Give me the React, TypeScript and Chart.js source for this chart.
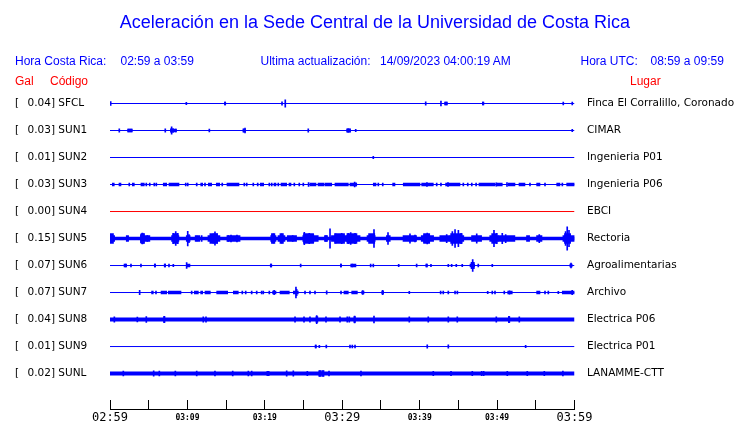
import React, { useEffect, useRef } from "react";
import { Chart, registerables } from "chart.js";

Chart.register(...registerables);

// ---------- data ----------
const CODES = ["SFCL", "SUN1", "SUN2", "SUN3", "SUN4", "SUN5", "SUN6", "SUN7", "SUN8", "SUN9", "SUNL"];
const GAL = ["0.04", "0.03", "0.01", "0.03", "0.00", "0.15", "0.07", "0.07", "0.04", "0.01", "0.02"];
const PLACES = [
  "Finca El Corralillo, Coronado",
  "CIMAR",
  "Ingenieria P01",
  "Ingenieria P06",
  "EBCI",
  "Rectoria",
  "Agroalimentarias",
  "Archivo",
  "Electrica P06",
  "Electrica P01",
  "LANAMME-CTT",
];
const TIME_LABELS = ["02:59", "03:09", "03:19", "03:29", "03:39", "03:49", "03:59"];
const WINDOW_MIN = 60;

// spikes: [minute, half amplitude in % of trace spacing]
const SFCL_SPIKES = [[0.09, 7], [9.86, 4], [14.85, 5], [22.22, 6], [22.64, 14], [40.78, 6], [42.75, 9], [43.3, 5], [43.5, 5], [48.18, 5], [58.55, 5], [59.71, 5]];
const SFCL_BANDS = [[14.8, 14.95], [43.25, 43.55], [48.1, 48.3]];

const SUN1_SPIKES = [[1.2, 6], [2.36, 5], [2.58, 5], [2.8, 5], [7.14, 6], [7.87, 6], [7.96, 14], [8.14, 7], [8.52, 5], [12.83, 5], [17.24, 6], [17.44, 9], [25.61, 6], [30.65, 6], [30.8, 7], [31.0, 6], [31.74, 4], [59.71, 4]];
const SUN1_BANDS = [[2.3, 2.85], [7.85, 8.55], [17.2, 17.5], [30.6, 31.05]];

const SUN2_SPIKES = [[34.01, 4]];

const SUN3_SPIKES = [[2.49, 5], [4.69, 5], [5.13, 5], [5.72, 5], [5.98, 5], [9.78, 5], [10.04, 5], [11.2, 5], [12.27, 5], [14.5, 5], [17.35, 5], [17.66, 5], [18.51, 5], [19.08, 5], [20.58, 5], [20.89, 5], [21.74, 5], [23.81, 5], [24.45, 5], [24.97, 5], [25.65, 7], [31.6, 9], [31.78, 5], [34.66, 5], [35.23, 5], [40.94, 7], [42.2, 5], [42.75, 5], [43.66, 7], [45.64, 5], [46.21, 5], [46.73, 5], [47.29, 5], [49.9, 6], [51.28, 7], [54.25, 5], [56.19, 5], [58.43, 5]];
const SUN3_BANDS = [[0.3, 0.55], [1.16, 1.42], [2.88, 3.14], [4.0, 4.43], [6.88, 7.32], [7.62, 8.91], [11.72, 11.97], [12.7, 13.13], [13.73, 14.17], [15.11, 16.66], [19.41, 19.85], [21.18, 21.44], [22.09, 22.82], [23.12, 23.38], [25.83, 26.61], [26.87, 27.64], [27.77, 28.64], [29.06, 30.78], [31.0, 31.87], [34.01, 34.36], [36.51, 36.81], [37.88, 40.04], [40.26, 41.76], [43.35, 45.21], [47.66, 49.73], [49.95, 50.67], [51.45, 52.31], [52.83, 53.6], [55.11, 55.54], [57.7, 58.12], [58.99, 60]];

const SUN5_SPIKES = [[0.26, 14], [2.32, 7], [4.0, 15], [4.18, 20], [4.35, 17], [4.82, 11], [8.18, 19], [8.49, 26], [8.74, 19], [10.04, 27], [10.2, 15], [11.24, 9], [11.84, 11], [13.34, 17], [13.56, 25], [13.82, 17], [15.28, 11], [15.63, 13], [16.4, 13], [20.89, 13], [21.1, 17], [22.18, 17], [23.6, 11], [25.1, 23], [25.74, 19], [26.26, 15], [27.9, 11], [28.42, 36], [29.15, 17], [29.93, 19], [30.78, 19], [31.09, 22], [31.65, 19], [33.58, 15], [34.1, 33], [35.91, 22], [38.75, 17], [39.4, 13], [40.6, 15], [40.98, 20], [43.49, 15], [44.22, 26], [44.57, 33], [45.0, 30], [45.35, 19], [47.37, 17], [49.6, 30], [49.95, 19], [50.67, 19], [51.11, 15], [55.45, 15], [58.85, 26], [59.06, 43], [59.29, 30]];
const SUN5_BANDS = [[0, 0.6], [2.1, 2.4], [3.95, 5.15], [7.95, 8.9], [9.85, 10.35], [11.0, 11.6], [12.65, 14.2], [15.1, 16.8], [20.76, 21.44], [21.7, 22.6], [22.9, 24.1], [24.9, 26.9], [27.7, 28.1], [28.6, 30.55], [30.55, 32.3], [33.2, 34.25], [35.7, 36.2], [37.85, 39.6], [40.2, 41.8], [42.6, 43.9], [43.9, 45.7], [46.7, 48.0], [49.05, 50.2], [50.2, 52.3], [53.8, 54.2], [55.1, 55.8], [58.5, 60]];
const SUN5_BURSTS = [[0, 0.45], [4.0, 4.45], [8.1, 8.8], [12.9, 13.9], [20.85, 21.3], [21.95, 22.4], [25.0, 26.3], [29.0, 30.3], [30.6, 31.9], [33.4, 34.2], [40.5, 41.3], [44.0, 45.5], [49.3, 50.0], [58.7, 59.5]];

const SUN6_SPIKES = [[2.0, 5], [2.71, 5], [4.0, 5], [5.8, 5], [7.1, 5], [7.62, 5], [8.18, 4], [9.9, 11], [20.8, 5], [24.63, 5], [29.84, 5], [31.3, 5], [33.67, 5], [34.01, 5], [37.29, 4], [39.61, 5], [40.9, 5], [41.46, 4], [43.7, 4], [44.13, 4], [44.73, 4], [45.5, 4], [46.7, 12], [46.85, 22], [47.0, 12], [47.57, 5], [49.38, 4], [59.55, 9]];
const SUN6_BANDS = [[1.81, 2.15], [5.72, 5.9], [7.0, 7.19], [9.86, 10.33], [20.7, 20.9], [29.75, 29.9], [31.09, 31.77], [40.8, 41.0], [46.5, 47.1], [59.4, 59.7]];

const SUN7_SPIKES = [[3.83, 8], [5.94, 5], [10.55, 5], [17.09, 5], [17.53, 5], [18.3, 5], [18.95, 5], [19.59, 5], [19.8, 5], [20.58, 5], [21.2, 8], [24.02, 20], [24.11, 12], [25.19, 5], [25.83, 5], [26.48, 5], [27.99, 6], [29.84, 5], [32.65, 7], [35.22, 8], [38.66, 4], [42.71, 5], [43.05, 5], [43.7, 5], [44.57, 5], [44.87, 5], [48.79, 4], [49.38, 5], [49.73, 5], [50.93, 5], [51.6, 6], [56.19, 5], [56.62, 5], [57.91, 4], [59.7, 8]];
const SUN7_BANDS = [[5.37, 5.59], [6.59, 7.32], [7.53, 9.17], [10.89, 11.41], [11.71, 11.97], [12.27, 12.96], [13.78, 15.2], [15.93, 16.57], [21.0, 21.44], [21.96, 23.16], [23.68, 24.32], [30.22, 30.78], [31.22, 31.95], [32.51, 32.81], [35.1, 35.35], [51.37, 51.96], [55.11, 55.54], [58.42, 60]];

const SUN8_SPIKES = [[0.56, 10], [3.53, 9], [4.69, 11], [7.01, 12], [12.05, 10], [12.4, 10], [23.9, 10], [25.06, 10], [25.83, 10], [26.7, 15], [27.9, 10], [29.71, 10], [30.65, 10], [30.91, 10], [31.6, 13], [34.1, 13], [38.66, 10], [41.11, 10], [43.7, 10], [44.86, 10], [49.9, 10], [51.54, 12], [52.87, 10]];
const SUN8_BANDS = [[6.93, 7.1], [26.6, 26.85], [31.5, 31.7], [51.45, 51.65]];

const SUN9_SPIKES = [[26.57, 5], [27.04, 4], [27.94, 5], [31.0, 5], [31.3, 5], [31.65, 5], [40.98, 6], [43.7, 6], [53.69, 4]];
const SUN9_BANDS = [[26.5, 26.65]];

const SUNL_SPIKES = [[1.72, 9], [5.64, 10], [6.37, 9], [8.44, 9], [11.2, 9], [13.56, 9], [15.85, 9], [17.87, 9], [18.3, 9], [20.32, 8], [20.5, 8], [22.82, 10], [23.68, 10], [25.49, 8], [27.04, 10], [27.2, 9], [27.5, 10], [28.29, 9], [32.42, 9], [41.76, 8], [44.05, 8], [46.8, 8], [48.01, 8], [48.27, 8], [51.32, 8], [53.9, 8], [56.1, 8], [58.5, 9]];
const SUNL_BANDS = [[27.0, 27.3], [27.45, 27.65]];

// ---------- styles ----------
const BLUE = "#0000ff";
const RED = "#ff0000";

type Band = { ranges: number[][]; thickness: number };
type Trace = { color: string; width: number; spikes: number[][]; bands: Band[] };

const TRACES: Trace[] = [
  { color: BLUE, width: 1, spikes: SFCL_SPIKES, bands: [{ ranges: SFCL_BANDS, thickness: 3 }] },
  { color: BLUE, width: 1, spikes: SUN1_SPIKES, bands: [{ ranges: SUN1_BANDS, thickness: 3 }] },
  { color: BLUE, width: 1, spikes: SUN2_SPIKES, bands: [] },
  { color: BLUE, width: 1, spikes: SUN3_SPIKES, bands: [{ ranges: SUN3_BANDS, thickness: 3 }] },
  { color: RED, width: 1, spikes: [], bands: [] },
  { color: BLUE, width: 3.5, spikes: SUN5_SPIKES, bands: [{ ranges: SUN5_BANDS, thickness: 6 }, { ranges: SUN5_BURSTS, thickness: 10 }] },
  { color: BLUE, width: 1, spikes: SUN6_SPIKES, bands: [{ ranges: SUN6_BANDS, thickness: 3 }] },
  { color: BLUE, width: 1, spikes: SUN7_SPIKES, bands: [{ ranges: SUN7_BANDS, thickness: 3 }] },
  { color: BLUE, width: 4, spikes: SUN8_SPIKES, bands: [{ ranges: SUN8_BANDS, thickness: 6 }] },
  { color: BLUE, width: 1, spikes: SUN9_SPIKES, bands: [{ ranges: SUN9_BANDS, thickness: 3 }] },
  { color: BLUE, width: 4, spikes: SUNL_SPIKES, bands: [{ ranges: SUNL_BANDS, thickness: 6 }] },
];

function buildDatasets() {
  const ds: any[] = [];
  TRACES.forEach((tr, i) => {
    ds.push({
      type: "line",
      data: [{ x: 0, y: i }, { x: WINDOW_MIN, y: i }],
      borderColor: tr.color,
      borderWidth: tr.width,
      borderCapStyle: "butt",
      pointRadius: 0,
      xAxisID: "x",
      yAxisID: "y",
    });
    tr.bands.forEach((b) => {
      ds.push({
        type: "bar",
        indexAxis: "y",
        data: b.ranges.map(([a, c]) => ({ y: i, x: [a, c] })),
        backgroundColor: tr.color,
        barThickness: b.thickness,
        grouped: false,
        borderWidth: 0,
        xAxisID: "x",
        yAxisID: "y",
      });
    });
    if (tr.spikes.length) {
      ds.push({
        type: "bar",
        data: tr.spikes.map(([t, a]) => ({ x: t, y: [i - a / 100, i + a / 100] })),
        backgroundColor: tr.color,
        barThickness: 1,
        grouped: false,
        borderWidth: 0,
        xAxisID: "x",
        yAxisID: "y",
      });
    }
  });
  return ds;
}

const LABEL_FONT = { family: "'DejaVu Sans', sans-serif", size: 10.5 };

export default function App() {
  const ref = useRef<HTMLCanvasElement | null>(null);

  useEffect(() => {
    if (!ref.current) return;
    const traceTicks = (scale: any) => {
      scale.ticks = CODES.map((_, i) => ({ value: i }));
    };
    const chart = new Chart(ref.current, {
      type: "line",
      data: { datasets: buildDatasets() },
      options: {
        animation: false,
        responsive: false,
        devicePixelRatio: 1,
        layout: { padding: { left: 15, top: 90, right: 0, bottom: 0 } },
        plugins: { legend: { display: false }, tooltip: { enabled: false }, title: { display: false } },
        events: [],
        scales: {
          x: {
            type: "linear",
            position: "bottom",
            weight: 1,
            min: 0,
            max: WINDOW_MIN,
            offset: false,
            grid: { display: false, drawTicks: false, offset: false },
            border: { display: true, color: "#000", width: 1 },
            ticks: {
              stepSize: 10,
              autoSkip: false,
              maxRotation: 0,
              padding: 1.5,
              color: "#000",
              callback: (v: any) => TIME_LABELS[Math.round(Number(v) / 10)] ?? "",
              font: (ctx: any) => {
                const v = ctx.tick ? ctx.tick.value : 0;
                return v % 30 === 0
                  ? { family: "'DejaVu Sans Mono', monospace", size: 12, lineHeight: 1.2 }
                  : { family: "'DejaVu Sans Mono', monospace", size: 8, weight: "bold", lineHeight: 1.8 };
              },
            },
            afterFit: (s: any) => {
              s.height = 14;
            },
          },
          x2: {
            type: "linear",
            position: "bottom",
            weight: 0,
            min: 0,
            max: WINDOW_MIN,
            offset: false,
            grid: { display: true, drawOnChartArea: false, drawTicks: true, tickLength: 9, color: "#000", lineWidth: 1, offset: false },
            border: { display: false },
            ticks: { display: false, stepSize: 5 },
            afterFit: (s: any) => {
              s.height = 9;
            },
          },
          y: {
            type: "linear",
            position: "left",
            reverse: true,
            min: -0.5,
            max: 10.98,
            offset: false,
            grid: { display: false, drawTicks: false },
            border: { display: false },
            afterBuildTicks: traceTicks,
            ticks: {
              autoSkip: false,
              crossAlign: "far",
              padding: 0,
              color: "#000",
              font: LABEL_FONT,
              callback: (v: any) => {
                const i = Math.round(Number(v));
                return `[  \u2006${GAL[i]}] ${CODES[i]}`;
              },
            },
            afterFit: (s: any) => {
              s.width = 95;
            },
          },
          yR: {
            type: "linear",
            position: "right",
            reverse: true,
            min: -0.5,
            max: 10.98,
            offset: false,
            grid: { display: false, drawTicks: false },
            border: { display: false },
            afterBuildTicks: traceTicks,
            ticks: {
              autoSkip: false,
              crossAlign: "near",
              padding: 12.5,
              color: "#000",
              font: LABEL_FONT,
              callback: (v: any) => PLACES[Math.round(Number(v))] ?? "",
            },
            afterFit: (s: any) => {
              s.width = 165.5;
            },
          },
        },
      } as any,
    });
    return () => chart.destroy();
  }, []);

  const txt = (left: number, top: number, color: string): React.CSSProperties => ({
    position: "absolute",
    left,
    top,
    color,
    fontSize: 12,
    lineHeight: "14px",
    whiteSpace: "pre",
  });

  return (
    <div
      style={{
        position: "absolute",
        left: 0,
        top: 0,
        width: 740,
        height: 423,
        background: "#fff",
        overflow: "hidden",
        fontFamily: "'Liberation Sans', Arial, sans-serif",
      }}
    >
      <canvas ref={ref} width={740} height={423} style={{ position: "absolute", left: 0, top: 0, display: "block" }} />
      <div
        style={{
          position: "absolute",
          left: 0,
          top: 12,
          width: 750,
          textAlign: "center",
          color: BLUE,
          fontSize: 18,
          lineHeight: "20px",
          whiteSpace: "pre",
        }}
      >
        Aceleración en la Sede Central de la Universidad de Costa Rica
      </div>
      <div style={txt(15, 54, BLUE)}>Hora Costa Rica:</div>
      <div style={txt(120.5, 54, BLUE)}>02:59 a 03:59</div>
      <div style={txt(260.5, 54, BLUE)}>Ultima actualización:</div>
      <div style={txt(380, 54, BLUE)}>14/09/2023 04:00:19 AM</div>
      <div style={txt(580.5, 54, BLUE)}>Hora UTC:</div>
      <div style={txt(650.5, 54, BLUE)}>08:59 a 09:59</div>
      <div style={txt(15, 74, RED)}>Gal</div>
      <div style={txt(50, 74, RED)}>Código</div>
      <div style={txt(630, 74, RED)}>Lugar</div>
    </div>
  );
}
